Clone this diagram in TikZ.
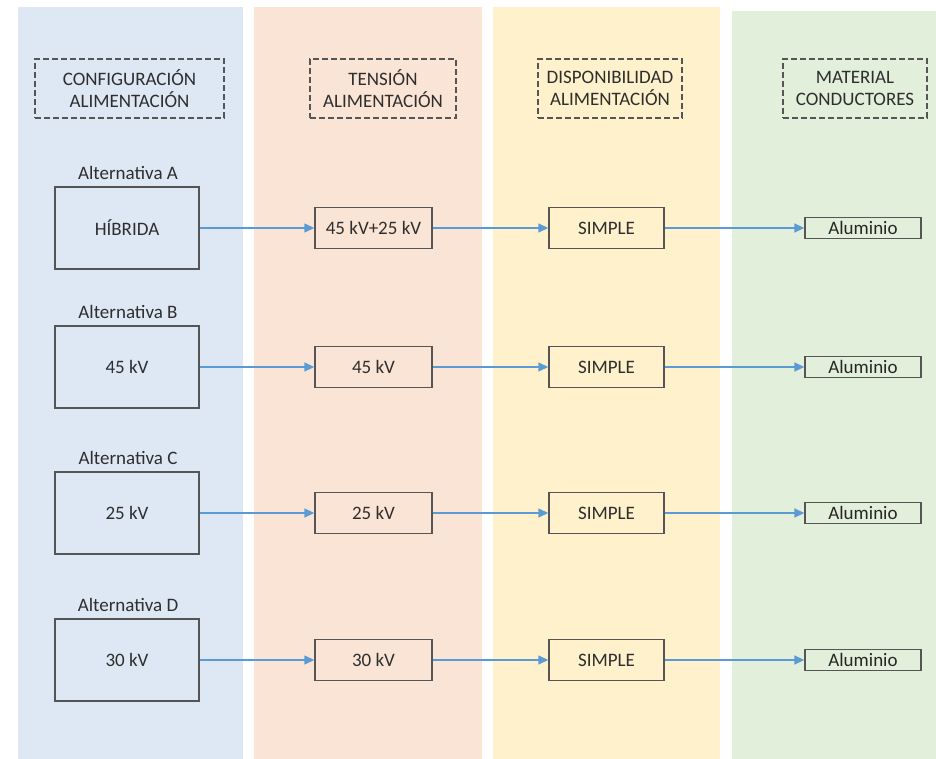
\documentclass[tikz,border=0pt]{standalone}
\usepackage{fontspec}
\setmainfont{Carlito}
\usetikzlibrary{arrows.meta}
\definecolor{pblue}{HTML}{DDE8F4}
\definecolor{porange}{HTML}{FAE4D5}
\definecolor{pyellow}{HTML}{FEF1CB}
\definecolor{pgreen}{HTML}{E2EFDA}
\definecolor{txt}{HTML}{2E2E2E}
\definecolor{edge}{HTML}{555555}
\definecolor{arr}{HTML}{5B9BD5}
\begin{document}
\begin{tikzpicture}[x=1pt,y=-1pt,
  every node/.style={font=\fontsize{19}{22}\selectfont, text=txt},
  hdr/.style={draw=edge, dash pattern=on 6pt off 3pt, line width=1.2pt, align=center, minimum height=59pt, inner sep=0pt},
  bigbox/.style={draw=edge, line width=1.4pt, minimum width=144pt, minimum height=82pt, inner sep=0pt},
  midbox/.style={draw=edge, line width=1.4pt, minimum height=41pt, inner sep=0pt},
  albox/.style={draw=edge, line width=1.3pt, minimum width=116pt, minimum height=21pt, inner sep=0pt, text=black!85},
  lbl/.style={inner sep=0pt},
  conn/.style={draw=arr, line width=1.4pt, -{Triangle[length=10pt,width=9pt]}}
]
\useasboundingbox (0,0) rectangle (936,759);
\fill[pblue] (18,7) rectangle (243,759);
\fill[porange] (254,7) rectangle (482,759);
\fill[pyellow] (493,7) rectangle (720,759);
\fill[pgreen] (732,11) rectangle (936,759);

\node[hdr, minimum width=189pt] (h1) at (129.5,88.5) {CONFIGURACIÓN\\ALIMENTACIÓN};
\node[hdr, minimum width=146pt] (h2) at (383,88.5) {TENSIÓN\\ALIMENTACIÓN};
\node[hdr, minimum width=144pt] (h3) at (610,88.5) {DISPONIBILIDAD\\ALIMENTACIÓN};
\node[hdr, minimum width=144pt] (h4) at (855,88.5) {MATERIAL\\CONDUCTORES};

\foreach \yy/\l/\a/\b in {228/A/HÍBRIDA/45 kV+25 kV, 367/B/45 kV/45 kV, 513/C/25 kV/25 kV, 660/D/30 kV/30 kV}{
  \node[lbl] (l\l) at (128,\yy-55) {Alternativa \l};
  \node[bigbox] (b\l) at (127,\yy) {\a};
  \node[midbox, minimum width=117pt] (t\l) at (373.5,\yy) {\b};
  \node[midbox, minimum width=115pt] (s\l) at (606.5,\yy) {SIMPLE};
  \node[albox] (m\l) at (863,\yy) {Aluminio};
  \draw[conn] (b\l) -- (t\l);
  \draw[conn] (t\l) -- (s\l);
  \draw[conn] (s\l) -- (m\l);
}
\end{tikzpicture}
\end{document}
